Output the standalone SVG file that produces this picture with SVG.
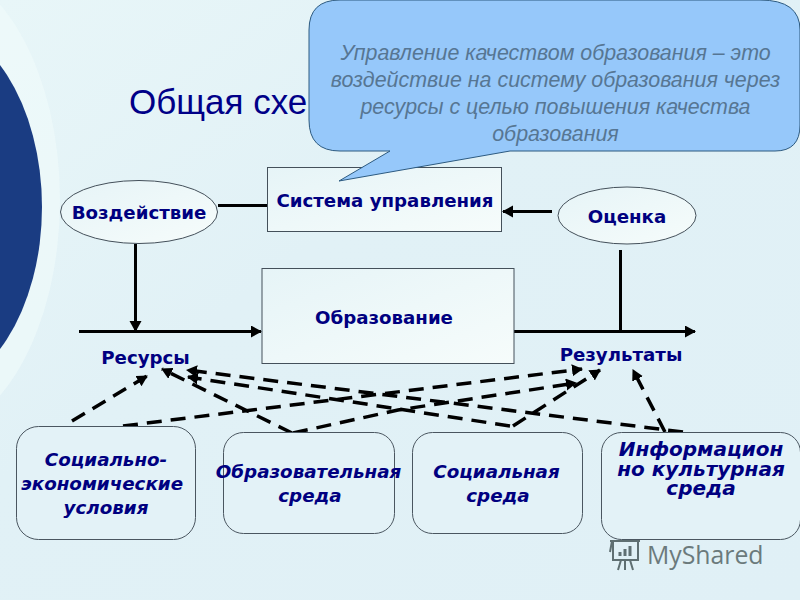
<svg xmlns="http://www.w3.org/2000/svg" width="800" height="600" viewBox="0 0 800 600">
<style>
.b{font-family:"DejaVu Sans",Verdana,sans-serif;font-weight:bold;fill:#000080;font-size:18.2px;text-anchor:middle}
.i{font-style:italic;font-size:18.3px}
.f{font-size:20px}
.c{font-family:"Liberation Sans",Arial,sans-serif;font-style:italic;font-size:21.4px;fill:#567693;text-anchor:middle}
.box{fill:url(#w);stroke:#44505a;stroke-width:1}
.rr{fill:#e3f2f7;stroke:#4a5660;stroke-width:1}
.s{fill:none;stroke:#000;stroke-width:3}
.d{fill:none;stroke:#000;stroke-width:3.5;stroke-dasharray:15 9}
</style>
<defs>
<linearGradient id="bg" x1="0" y1="0" x2="1" y2="1"><stop offset="0" stop-color="#e8f6f8"/><stop offset=".4" stop-color="#e1f1f6"/><stop offset="1" stop-color="#e0f0f6"/></linearGradient>
<linearGradient id="w" x1="0" y1="0" x2="1" y2="1"><stop offset="0" stop-color="#e6f4f7"/><stop offset="1" stop-color="#f6fcfb"/></linearGradient>
<marker id="a" markerUnits="userSpaceOnUse" markerWidth="14" markerHeight="14" refX="10" refY="6" orient="auto"><path d="M0 0L11 6L0 12z" fill="#000"/></marker>
</defs>
<rect width="800" height="600" fill="url(#bg)"/>
<g id="decor">
<ellipse cx="-75" cy="200" rx="135" ry="235" fill="#f0fafa" opacity=".65"/>
<ellipse cx="-78" cy="207" rx="120" ry="187" fill="#1a3c82"/>
</g>
<text id="title" x="129" y="114" font-family="'Liberation Sans',Arial,sans-serif" font-size="35" fill="#000088">Общая схе</text>
<g id="connectors">
<path class="s" d="M218 205.500H268"/>
<path class="s" d="M552 211.500H503" marker-end="url(#a)"/>
<path class="s" d="M135.500 244V331" marker-end="url(#a)"/>
<path class="s" d="M79 331.500H261" marker-end="url(#a)"/>
<path class="s" d="M514 331.500H695" marker-end="url(#a)"/>
<path class="s" d="M620.500 250V331"/>
<path class="d" d="M72 421L147 376" marker-end="url(#a)"/>
<path class="d" d="M123 426L582 369" marker-end="url(#a)"/>
<path class="d" d="M292 433L162 369" marker-end="url(#a)"/>
<path class="d" d="M293 433L398 410L576 383" marker-end="url(#a)"/>
<path class="d" d="M513 426L600 370" marker-end="url(#a)"/>
<path class="d" d="M510 426L188 377" marker-end="url(#a)"/>
<path class="d" d="M683 432L187 370" marker-end="url(#a)"/>
<path class="d" d="M665 432L633 370" marker-end="url(#a)"/>
</g>
<g id="node-system"><rect class="box" x="267.500" y="167.500" width="234" height="64"/><text class="b" x="385" y="207">Система управления</text></g>
<g id="node-education"><rect class="box" x="262" y="268.500" width="252" height="95"/><text class="b" x="384" y="324">Образование</text></g>
<g id="node-impact"><ellipse class="box" cx="139" cy="212" rx="78.500" ry="31.500"/><text class="b" x="139" y="219">Воздействие</text></g>
<g id="node-eval"><ellipse class="box" cx="627" cy="215.500" rx="69" ry="28.500"/><text class="b" x="627" y="223">Оценка</text></g>
<g id="callout"><path d="M340 0H760Q800 0 800 30V125Q800 151 775 151H510L339 181L390 151H340Q309 151 309 120V30Q309 0 340 0Z" fill="#96c8fa" stroke="#2c5a80" stroke-width="1"/>
<text class="c" x="555.500" y="60">Управление качеством образования – это</text>
<text class="c" x="555.500" y="87">воздействие на систему образования через</text>
<text class="c" x="555.500" y="114">ресурсы с целью повышения качества</text>
<text class="c" x="555.500" y="141">образования</text></g>
<text class="b" x="145.500" y="364">Ресурсы</text>
<text class="b" x="621" y="361">Результаты</text>
<g id="node-socec"><rect class="rr" x="16.500" y="426.500" width="179" height="113" rx="22"/>
<text class="b i" x="106" y="466">Социально-</text><text class="b i" x="102" y="490">экономические</text><text class="b i" x="106" y="514">условия</text></g>
<g id="node-edenv"><rect class="rr" x="223.500" y="432.500" width="171" height="101" rx="20"/>
<text class="b i" x="308.500" y="478">Образовательная</text><text class="b i" x="310" y="502">среда</text></g>
<g id="node-socenv"><rect class="rr" x="412.500" y="432.500" width="170" height="101" rx="20"/>
<text class="b i" x="496.500" y="478">Социальная</text><text class="b i" x="498" y="502">среда</text></g>
<g id="node-info"><rect class="rr" x="601.500" y="432.500" width="199" height="107" rx="20"/>
<text class="b i f" x="701" y="456">Информацион</text><text class="b i f" x="701" y="476">но культурная</text><text class="b i f" x="701" y="495">среда</text></g>
<g id="watermark" fill="none" stroke="#5f6f72" stroke-width="2">
<path d="M610 541H640M613 541V560H638V541M612 541L610 552M621 560L618 570M630 560L633 570M625 560V570"/>
<path d="M620 556V552M625 556V549M630 556V546" stroke-width="3"/>
<text x="647" y="564" font-family="'Open Sans','Noto Sans',sans-serif" font-size="24.800" fill="#6b7a7c" stroke="none">MyShared</text>
</g>
</svg>
